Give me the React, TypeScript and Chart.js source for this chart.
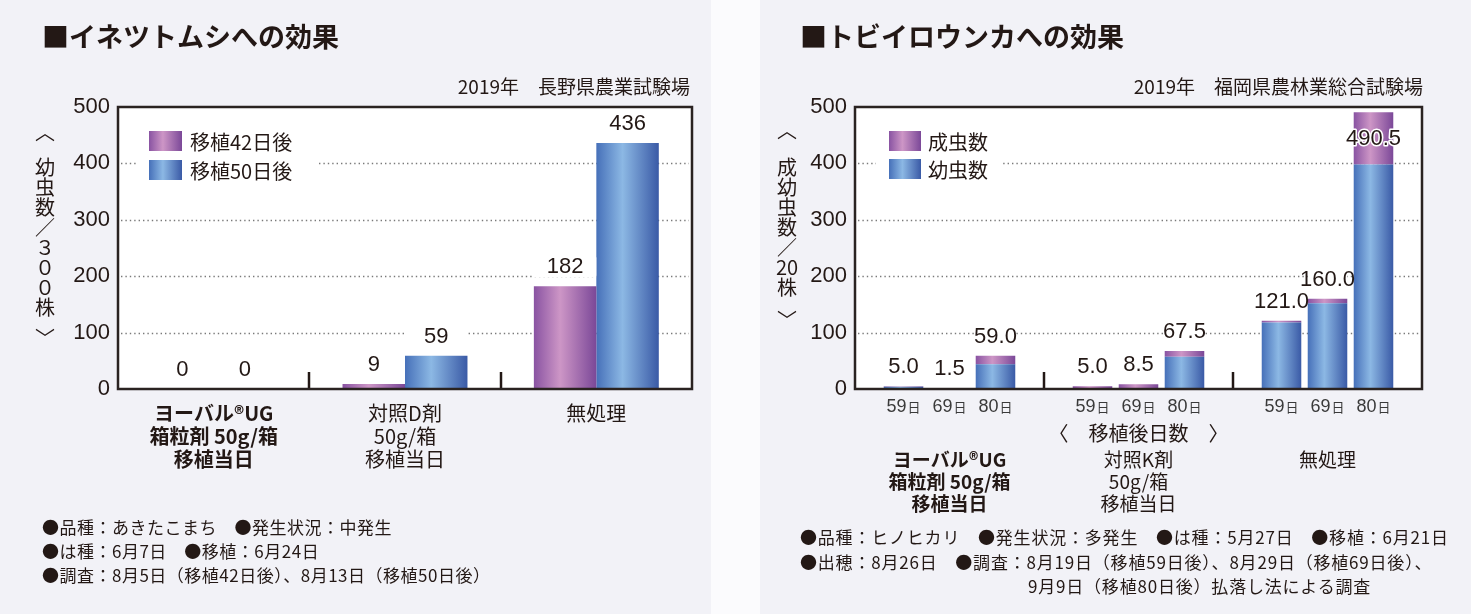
import React, { useEffect, useRef } from 'react';
import { Chart, registerables } from 'chart.js';

Chart.register(...registerables);

const CJK = "'Noto Sans CJK JP', 'Noto Sans', sans-serif";
const NUM = "'Liberation Sans', Arial, 'Noto Sans CJK JP', sans-serif";
const NUM_NARROW = "'Liberation Sans Narrow', 'Liberation Sans', Arial, sans-serif";
const INK = '#231815';

// ---------------- Left chart: イネツトムシへの効果 ----------------
const leftTitle = '■イネツトムシへの効果';
const leftSource = '2019年　長野県農業試験場';
const leftCategories = [
  ['ヨーバル®UG', '箱粒剤 50g/箱', '移植当日'],
  ['対照D剤', '50g/箱', '移植当日'],
  ['無処理'],
];
const leftSeriesNames = ['移植42日後', '移植50日後'];
const leftAfter42 = [0, 9, 182];
const leftAfter50 = [0, 59, 436];
const leftYTitle = ['幼', '虫', '数', '／', '３', '０', '０', '株'];
const leftNotes = [
  '●品種：あきたこまち　●発生状況：中発生',
  '●は種：6月7日　●移植：6月24日',
  '●調査：8月5日（移植42日後）、8月13日（移植50日後）',
];

// ---------------- Right chart: トビイロウンカへの効果 ----------------
const rightTitle = '■トビイロウンカへの効果';
const rightSource = '2019年　福岡県農林業総合試験場';
const rightCategories = [
  ['ヨーバル®UG', '箱粒剤 50g/箱', '移植当日'],
  ['対照K剤', '50g/箱', '移植当日'],
  ['無処理'],
];
const rightSeriesNames = ['成虫数', '幼虫数'];
const dayLabels = ['59日', '69日', '80日'];
const larvae59 = [4.0, 1.0, 118.0];
const adults59 = [1.0, 4.0, 3.0];
const larvae69 = [0.5, 1.5, 152.0];
const adults69 = [1.0, 7.0, 8.0];
const larvae80 = [44.0, 57.0, 398.0];
const adults80 = [15.0, 10.5, 92.5];
const rightCaption = '〈　移植後日数　〉';
const rightYTitle = ['成', '幼', '虫', '数', '／', '20', '株'];
const rightNotes = [
  '●品種：ヒノヒカリ　●発生状況：多発生　●は種：5月27日　●移植：6月21日',
  '●出穂：8月26日　●調査：8月19日（移植59日後）、8月29日（移植69日後）、',
];
const rightNote3 = '9月9日（移植80日後）払落し法による調査';

const yTickValues = [0, 100, 200, 300, 400, 500];

// ---------------- styles ----------------
type Stops = [number, string][];
const PURPLE: Stops = [[0, '#8953a2'], [0.42, '#cd96c6'], [1, '#7b4898']];
const BLUE: Stops = [[0, '#4670b9'], [0.42, '#8cb8e4'], [1, '#3a5aa6']];

function makeGrad(ctx: CanvasRenderingContext2D, x0: number, x1: number, stops: Stops) {
  const g = ctx.createLinearGradient(x0, 0, x1, 0);
  stops.forEach(([o, c]) => g.addColorStop(o, c));
  return g;
}

const fmt1 = (a: number[], b: number[]) => a.map((v, i) => (v + b[i]).toFixed(1));

function makeDecor(cfg: any) {
  return {
    id: 'decor',
    beforeDraw(chart: any) {
      const { ctx, chartArea: a } = chart;
      ctx.save();
      ctx.fillStyle = '#ffffff';
      ctx.fillRect(a.left, a.top, a.right - a.left, a.bottom - a.top);
      const t = cfg.yTitle;
      ctx.fillStyle = INK;
      ctx.textAlign = 'center';
      ctx.textBaseline = 'middle';
      ctx.font = `20px ${CJK}`;
      ctx.fillText('︿', t.x, t.openY);
      t.chars.forEach((c: string, i: number) => ctx.fillText(c, t.x, t.firstY + i * t.step));
      ctx.fillText('﹀', t.x, t.closeY);
      ctx.restore();
    },
    beforeDatasetsDraw(chart: any) {
      const { ctx, chartArea: a } = chart;
      const ys = chart.scales.y;
      ctx.save();
      ctx.strokeStyle = '#7a7a7a';
      ctx.lineWidth = 1.4;
      ctx.setLineDash([1.4, 3]);
      yTickValues.forEach((v) => {
        if (v <= 0 || v >= 500) return;
        const py = Math.round(ys.getPixelForValue(v)) + 0.5;
        ctx.beginPath();
        ctx.moveTo(a.left + 3, py);
        ctx.lineTo(a.right - 3, py);
        ctx.stroke();
      });
      ctx.restore();
      chart.data.datasets.forEach((_ds: any, i: number) => {
        const meta = chart.getDatasetMeta(i);
        const stops = cfg.gradients[i];
        meta.data.forEach((el: any) => {
          const g = makeGrad(ctx, el.x - el.width / 2, el.x + el.width / 2, stops);
          el.options = Object.assign({}, el.options, { backgroundColor: g });
        });
      });
    },
    afterDatasetsDraw(chart: any) {
      const { ctx, chartArea: a } = chart;
      const xs = chart.scales.x;
      ctx.save();
      // category separators
      ctx.strokeStyle = INK;
      ctx.lineWidth = 2.5;
      const n = chart.data.labels.length;
      for (let i = 1; i < n; i++) {
        const px = Math.round((xs.getPixelForValue(i - 1) + xs.getPixelForValue(i)) / 2);
        ctx.beginPath();
        ctx.moveTo(px, a.bottom);
        ctx.lineTo(px, a.bottom - 17);
        ctx.stroke();
      }
      // frame
      ctx.strokeStyle = '#2a2321';
      ctx.lineWidth = 2.5;
      ctx.strokeRect(a.left, a.top, a.right - a.left, a.bottom - a.top);

      // value labels
      const items: any[] = [];
      cfg.labels.forEach((spec: any) => {
        const meta = chart.getDatasetMeta(spec.ds);
        meta.data.forEach((el: any, k: number) => {
          const top = Math.min(el.y, el.base);
          let cy = top - cfg.labelGap;
          const inside = cy - 10 < a.top + 4;
          if (inside) cy = top + 27;
          items.push({ x: el.x, w: el.width, cy, inside, text: spec.texts[k] });
        });
      });
      ctx.fillStyle = '#ffffff';
      items.forEach((it) => {
        if (!it.inside) ctx.fillRect(it.x - it.w / 2, it.cy - 10, it.w, 20);
      });
      ctx.font = `22px ${NUM_NARROW}`;
      ctx.textAlign = 'center';
      ctx.textBaseline = 'middle';
      items.forEach((it) => {
        if (it.inside) {
          ctx.strokeStyle = '#ffffff';
          ctx.lineWidth = 3;
          ctx.lineJoin = 'round';
          ctx.strokeText(it.text, it.x, it.cy);
        }
        ctx.fillStyle = INK;
        ctx.fillText(it.text, it.x, it.cy);
      });

      // legend
      const lg = cfg.legend;
      ctx.fillStyle = '#ffffff';
      ctx.fillRect(lg.bg[0], lg.bg[1], lg.bg[2], lg.bg[3]);
      lg.items.forEach((item: any, i: number) => {
        const cy = lg.rowYs[i];
        ctx.fillStyle = makeGrad(ctx, lg.boxX, lg.boxX + lg.boxW, item.stops);
        ctx.fillRect(lg.boxX, cy - lg.boxH / 2, lg.boxW, lg.boxH);
        ctx.fillStyle = INK;
        ctx.font = `20px ${CJK}`;
        ctx.textAlign = 'left';
        ctx.textBaseline = 'middle';
        ctx.fillText(item.text, lg.textX, cy + 1);
      });

      // day labels under each bar
      if (cfg.days) {
        const d = cfg.days;
        d.ds.forEach((di: number, k: number) => {
          const meta = chart.getDatasetMeta(di);
          meta.data.forEach((el: any) => {
            const txt: string = d.texts[k];
            const num = txt.replace('日', '');
            ctx.font = `18px ${NUM}`;
            const wNum = ctx.measureText(num).width;
            ctx.font = `13px ${CJK}`;
            const wDay = ctx.measureText('日').width;
            const start = el.x - (wNum + wDay + 1) / 2;
            ctx.fillStyle = '#3a3a3a';
            ctx.textAlign = 'left';
            ctx.textBaseline = 'alphabetic';
            ctx.font = `18px ${NUM}`;
            ctx.fillText(num, start, d.y + 7);
            ctx.font = `13px ${CJK}`;
            ctx.fillText('日', start + wNum + 1, d.y + 7);
          });
        });
      }
      if (cfg.caption) {
        ctx.fillStyle = INK;
        ctx.font = `20px ${CJK}`;
        ctx.textAlign = 'center';
        ctx.textBaseline = 'middle';
        ctx.fillText(cfg.caption.text, (a.left + a.right) / 2, cfg.caption.y);
      }
      ctx.restore();
    },
  };
}

function xScale(padding: number, size: number, lh: number, height: number) {
  return {
    type: 'category',
    grid: { display: false, drawTicks: false },
    border: { display: false },
    ticks: {
      padding,
      color: INK,
      autoSkip: false,
      maxRotation: 0,
      minRotation: 0,
      font: (c: any) => ({ family: CJK, size, weight: c.index === 0 ? 'bold' : 'normal', lineHeight: lh / size }),
    },
    afterFit: (s: any) => {
      s.height = height;
    },
  };
}

function yScale(width: number, stacked: boolean) {
  return {
    stacked,
    min: 0,
    max: 500,
    grid: { display: false, drawTicks: false },
    border: { display: false },
    ticks: { stepSize: 100, padding: 8, color: INK, font: { family: NUM, size: 22 } },
    afterFit: (s: any) => {
      s.width = width;
    },
  };
}

const baseOptions = {
  responsive: false,
  animation: false,
  devicePixelRatio: 1,
  events: [],
};

function leftConfig(): any {
  return {
    type: 'bar',
    data: {
      labels: leftCategories,
      datasets: [
        { label: leftSeriesNames[0], data: leftAfter42, backgroundColor: '#b07ab5', borderWidth: 0, categoryPercentage: 0.653, barPercentage: 1 },
        { label: leftSeriesNames[1], data: leftAfter50, backgroundColor: '#6a93cf', borderWidth: 0, categoryPercentage: 0.653, barPercentage: 1 },
      ],
    },
    options: {
      ...baseOptions,
      layout: { padding: { top: 107, right: 19, bottom: 0, left: 0 } },
      plugins: { legend: { display: false }, tooltip: { enabled: false } },
      scales: { x: xScale(13, 20, 23, 225), y: yScale(118, false) },
    },
    plugins: [
      makeDecor({
        gradients: [PURPLE, BLUE],
        yTitle: { x: 45, openY: 132, chars: leftYTitle, firstY: 167, step: 20, closeY: 338 },
        legend: {
          items: [
            { text: leftSeriesNames[0], stops: PURPLE },
            { text: leftSeriesNames[1], stops: BLUE },
          ],
          boxX: 149, boxW: 33, boxH: 20, rowYs: [141, 170], textX: 190, bg: [137, 120, 181, 70],
        },
        labels: [
          { ds: 0, texts: leftAfter42.map(String) },
          { ds: 1, texts: leftAfter50.map(String) },
        ],
        labelGap: 19,
      }),
    ],
  };
}

function rightConfig(): any {
  const common = { borderWidth: 0, categoryPercentage: 0.73, barPercentage: 0.86 };
  return {
    type: 'bar',
    data: {
      labels: rightCategories,
      datasets: [
        { label: rightSeriesNames[1], data: larvae59, stack: 'd59', backgroundColor: '#6a93cf', ...common },
        { label: rightSeriesNames[0], data: adults59, stack: 'd59', backgroundColor: '#b07ab5', ...common },
        { label: rightSeriesNames[1], data: larvae69, stack: 'd69', backgroundColor: '#6a93cf', ...common },
        { label: rightSeriesNames[0], data: adults69, stack: 'd69', backgroundColor: '#b07ab5', ...common },
        { label: rightSeriesNames[1], data: larvae80, stack: 'd80', backgroundColor: '#6a93cf', ...common },
        { label: rightSeriesNames[0], data: adults80, stack: 'd80', backgroundColor: '#b07ab5', ...common },
      ],
    },
    options: {
      ...baseOptions,
      layout: { padding: { top: 107, right: 49, bottom: 0, left: 0 } },
      plugins: { legend: { display: false }, tooltip: { enabled: false } },
      scales: { x: xScale(60, 19, 22, 225), y: yScale(95, true) },
    },
    plugins: [
      makeDecor({
        gradients: [BLUE, PURPLE, BLUE, PURPLE, BLUE, PURPLE],
        yTitle: { x: 27, openY: 130, chars: rightYTitle, firstY: 167, step: 20, closeY: 320 },
        legend: {
          items: [
            { text: rightSeriesNames[0], stops: PURPLE },
            { text: rightSeriesNames[1], stops: BLUE },
          ],
          boxX: 129, boxW: 32, boxH: 20, rowYs: [141, 169], textX: 168, bg: [116, 119, 127, 72],
        },
        labels: [
          { ds: 1, texts: fmt1(larvae59, adults59) },
          { ds: 3, texts: fmt1(larvae69, adults69) },
          { ds: 5, texts: fmt1(larvae80, adults80) },
        ],
        labelGap: 19,
        days: { ds: [1, 3, 5], texts: dayLabels, y: 405 },
        caption: { text: rightCaption, y: 433 },
      }),
    ],
  };
}

function ChartCanvas({ build }: { build: () => any }) {
  const ref = useRef<HTMLCanvasElement | null>(null);
  useEffect(() => {
    if (!ref.current) return;
    const chart = new Chart(ref.current, build());
    return () => chart.destroy();
  }, []);
  return (
    <canvas
      ref={ref}
      width={711}
      height={614}
      style={{ position: 'absolute', left: 0, top: 0, width: 711, height: 614 }}
    />
  );
}

const textBase: React.CSSProperties = {
  position: 'absolute',
  whiteSpace: 'pre',
  fontFamily: CJK,
  color: INK,
};

function Panel(props: {
  left: number;
  title: string;
  source: string;
  sourceRight: number;
  build: () => any;
  notes: React.ReactNode;
}) {
  return (
    <div style={{ position: 'absolute', left: props.left, top: 0, width: 711, height: 614, background: '#f2f2f7' }}>
      <ChartCanvas build={props.build} />
      <div style={{ ...textBase, left: props.left === 0 ? 42 : 40, top: 21, fontSize: 27, lineHeight: '30px', fontWeight: 'bold' }}>
        {props.title}
      </div>
      <div style={{ ...textBase, right: props.sourceRight, top: 74, fontSize: 19, lineHeight: '24px' }}>{props.source}</div>
      {props.notes}
    </div>
  );
}

export default function App() {
  return (
    <div style={{ position: 'fixed', left: 0, top: 0, width: 1471, height: 614, background: '#fbfbfd', overflow: 'hidden' }}>
      <Panel
        left={0}
        title={leftTitle}
        source={leftSource}
        sourceRight={21}
        build={leftConfig}
        notes={
          <div style={{ ...textBase, left: 42, top: 515, fontSize: 17, lineHeight: '24px', letterSpacing: '0.5px' }}>
            {leftNotes.map((t, i) => (
              <div key={i}>{t}</div>
            ))}
          </div>
        }
      />
      <Panel
        left={760}
        title={rightTitle}
        source={rightSource}
        sourceRight={48}
        build={rightConfig}
        notes={
          <div style={{ ...textBase, left: 40, top: 525, fontSize: 17, lineHeight: '24.5px', letterSpacing: '0.8px' }}>
            {rightNotes.map((t, i) => (
              <div key={i}>{t}</div>
            ))}
            <div style={{ paddingLeft: 228 }}>{rightNote3}</div>
          </div>
        }
      />
    </div>
  );
}
